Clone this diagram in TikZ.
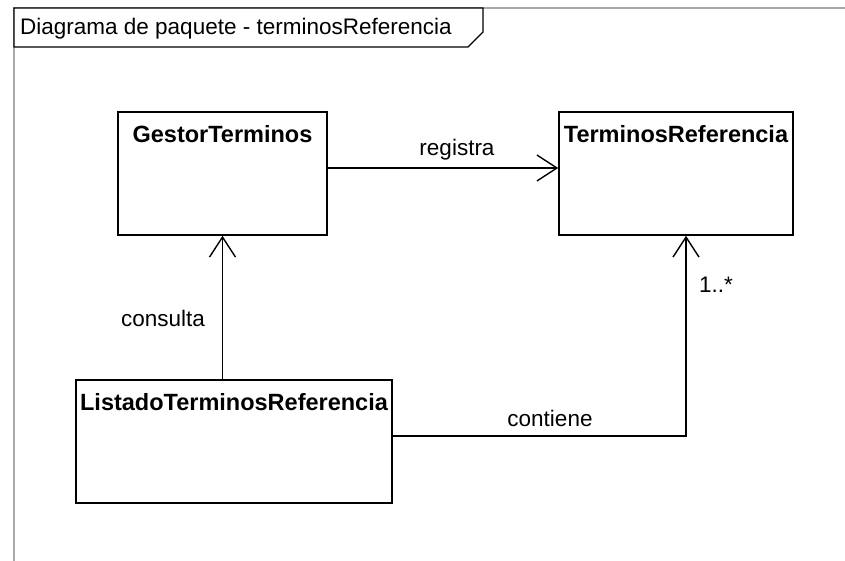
\documentclass[tikz,border=0pt]{standalone}
\usepackage{fontspec}
\setmainfont{Liberation Sans}
\usetikzlibrary{arrows.meta}
\definecolor{framegray}{RGB}{170,170,170}
\tikzset{
  umlbox/.style={draw=black, line width=1.6pt, fill=white, inner sep=0pt},
  boxtitle/.style={font=\fontsize{23.5}{26}\selectfont\bfseries, anchor=center, yshift=-23pt},
  conn/.style={draw=black, line width=1.4pt},
  openarrow/.style={-{Straight Barb[length=20pt,width=26pt,line width=1.4pt]}},
  lbl/.style={font=\fontsize{22.5}{25}\selectfont, inner sep=0pt}
}
\begin{document}
\begin{tikzpicture}[x=1pt,y=-1pt]
\useasboundingbox (0,0) rectangle (845,561);
% frame
\draw[framegray, line width=1.4pt] (14,561) -- (14,8) -- (845,8);
\draw[black, line width=1.4pt, fill=white] (14,8) -- (483,8) -- (483,32) -- (468,47) -- (14,47) -- cycle;
\node[lbl, anchor=west] (title) at (20,29) {Diagrama de paquete - terminosReferencia};
% classes
\node[umlbox, minimum width=209pt, minimum height=123pt,
      label={[boxtitle]north:GestorTerminos}] (g) at (222.5,173.5) {};
\node[umlbox, minimum width=234pt, minimum height=123pt,
      label={[boxtitle]north:TerminosReferencia}] (t) at (676,173.5) {};
\node[umlbox, minimum width=316pt, minimum height=123pt,
      label={[boxtitle]north:ListadoTerminosReferencia}] (l) at (234,441.5) {};
% connectors
\draw[conn, openarrow] ([yshift=5.5pt]g.east) -- ([yshift=5.5pt]t.west);
\node[lbl] (registra) at (457,150) {registra};
\draw[conn, openarrow] (g.south |- l.north) -- (g.south);
\node[lbl] (consulta) at (163,318) {consulta};
\coordinate (tin) at ([xshift=10pt]t.south);
\draw[conn, openarrow] ([yshift=5.5pt]l.east) -| (tin);
\node[lbl] (contiene) at (550,418) {contiene};
\node[lbl, anchor=west] (mult) at (699,285) {1..*};
\end{tikzpicture}
\end{document}
